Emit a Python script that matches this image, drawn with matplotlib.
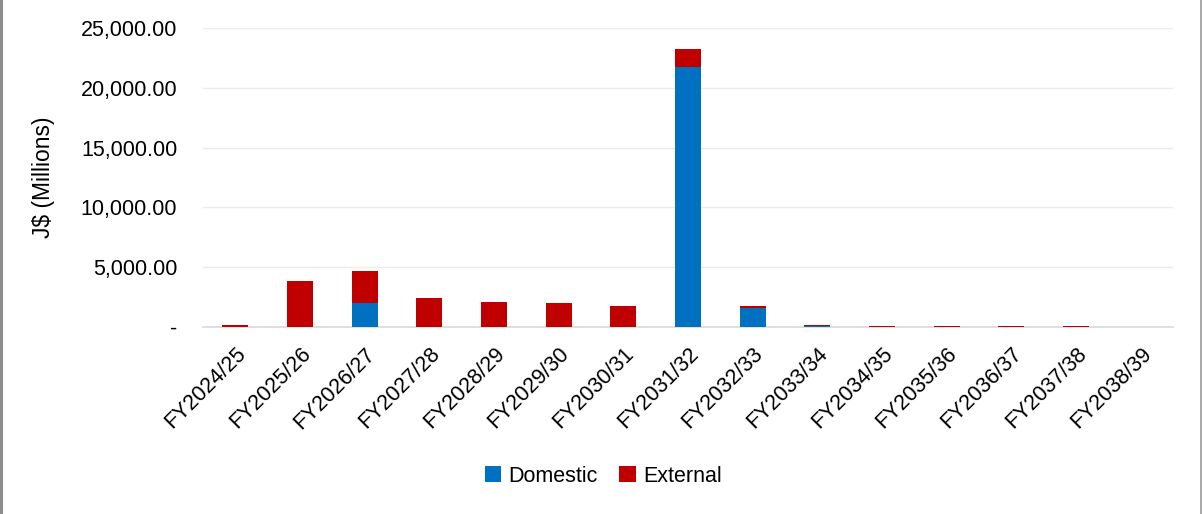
import matplotlib
matplotlib.use("Agg")
import matplotlib.pyplot as plt
from matplotlib.ticker import FuncFormatter
from matplotlib.lines import Line2D
import numpy as np

years = ["FY2024/25", "FY2025/26", "FY2026/27", "FY2027/28", "FY2028/29",
         "FY2029/30", "FY2030/31", "FY2031/32", "FY2032/33", "FY2033/34",
         "FY2034/35", "FY2035/36", "FY2036/37", "FY2037/38", "FY2038/39"]
domestic = [0, 0, 1970, 0, 0, 0, 0, 21770, 1600, 60, 40, 40, 40, 40, 0]
external = [170, 3860, 2720, 2440, 2080, 1970, 1750, 1510, 130, 100, 40, 40, 40, 40, 0]

BLUE = "#0070C0"
RED = "#C00000"

plt.rcParams["font.family"] = ["Liberation Sans", "DejaVu Sans"]

fig = plt.figure(figsize=(12.02, 5.14), dpi=100)
ax = fig.add_axes([0.1689, 0.3638, 0.8070, 0.5817])

x = np.arange(len(years))
w = 0.4
ax.bar(x, domestic, w, color=BLUE, label="Domestic", zorder=3)
ax.bar(x, external, w, bottom=domestic, color=RED, label="External", zorder=3)

ax.set_xlim(-0.5, len(years) - 0.5)
ax.set_ylim(0, 25000)
ax.set_yticks(np.arange(0, 25001, 5000))
ax.yaxis.set_major_formatter(FuncFormatter(lambda v, p: "-" if v == 0 else f"{v:,.2f}"))
ax.set_xticks(x)
ax.set_xticklabels(years, rotation=45, ha="right", rotation_mode="anchor")
ax.tick_params(axis="both", length=0, labelsize=15.5, colors="#000000")
ax.tick_params(axis="y", pad=18.5)
ax.tick_params(axis="x", pad=12)

ax.grid(axis="y", color="#ebebeb", linewidth=1.0, zorder=0)
for s in ["top", "right", "left"]:
    ax.spines[s].set_visible(False)
ax.spines["bottom"].set_color("#d9d9d9")
ax.spines["bottom"].set_linewidth(1.2)

ax.set_ylabel("J$ (Millions)", fontsize=16.5)
ax.yaxis.set_label_coords(-0.153, 0.5)

fig.legend(loc="center", bbox_to_anchor=(0.502, (514 - 476) / 514), ncol=2,
           frameon=False, fontsize=15.5, handlelength=0.75, handleheight=0.75,
           handletextpad=0.35, columnspacing=1.0)

# Side borders of the chart frame
fig.add_artist(Line2D([0.0012, 0.0012], [0, 1], transform=fig.transFigure,
                      color="#8c8c8c", linewidth=2.2))
fig.add_artist(Line2D([0.9993, 0.9993], [0, 1], transform=fig.transFigure,
                      color="#9a9a9a", linewidth=1.2))

fig.savefig("out.png", dpi=100)
